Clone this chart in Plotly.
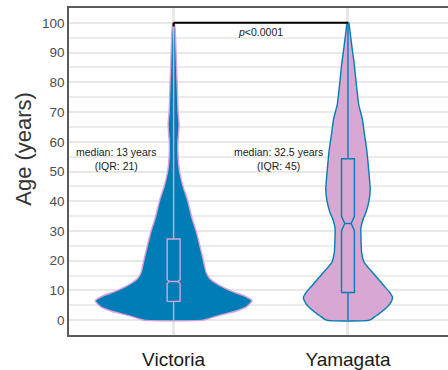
import plotly.graph_objects as go

# ---- data ----
categories = ["Victoria", "Yamagata"]

# violin density profiles (age, relative density; Victoria peak = 1)
vic_age = [0, 1.5, 3, 4.5, 6.5, 8, 9.5, 11, 12.5, 14, 16, 20, 25, 30.6, 34, 40.7, 45, 50, 55, 60, 63, 66, 70, 75, 80, 85, 90, 95, 100]
vic_dens = [0.38, 0.57, 0.79, 0.93, 1.0, 0.915, 0.76, 0.635, 0.535, 0.46, 0.415, 0.38, 0.335, 0.28, 0.238, 0.174, 0.12, 0.076, 0.057, 0.055, 0.064, 0.07, 0.057, 0.051, 0.045, 0.038, 0.032, 0.025, 0.01]

yam_age = [0, 1.4, 3.5, 5.5, 7.6, 9.5, 11.5, 14, 16, 19.4, 22.8, 28.4, 31, 34, 36.2, 40, 44, 50.8, 57.5, 63.1, 67.6, 72.6, 80.5, 86.1, 91.8, 97.3, 100]
yam_dens = [0.273, 0.356, 0.461, 0.534, 0.568, 0.527, 0.461, 0.381, 0.314, 0.207, 0.174, 0.165, 0.165, 0.194, 0.229, 0.267, 0.283, 0.263, 0.238, 0.207, 0.184, 0.136, 0.102, 0.08, 0.051, 0.025, 0.01]

# box statistics
q1 = [6.3, 9.3]
median = [13, 32.5]
q3 = [27.3, 54.3]
lowerfence = [0, 0]
upperfence = [100, 100]
notchspan = [0.6, 2.4]
iqr_labels = [21, 45]
p_label = "<i>p</i>&lt;0.0001"

# ---- styles ----
BLUE = "#007db6"
PLUM = "#d8a8d3"
PINK = "#dba0d8"
FONT = "Liberation Sans, Arial, sans-serif"
fills = [BLUE, PLUM]
lines = [PINK, BLUE]
max_half = 0.45
box_half = 0.037
notch_in = [0.35, 0.5]
positions = [0, 1]

fig = go.Figure()

profiles = [(vic_age, vic_dens), (yam_age, yam_dens)]
for i, (ages, dens) in enumerate(profiles):
    c = positions[i]
    xs = [c + max_half * d for d in dens] + [c - max_half * d for d in reversed(dens)] + [c + max_half * dens[0]]
    ys = list(ages) + list(reversed(ages)) + [ages[0]]
    fig.add_trace(go.Scatter(
        x=xs, y=ys, mode="lines", fill="toself",
        fillcolor=fills[i],
        line=dict(color=lines[i], width=1.4, shape="spline", smoothing=0.5),
        hoverinfo="skip", showlegend=False))

for i in range(2):
    c = positions[i]
    lo, hi = median[i] - notchspan[i], median[i] + notchspan[i]
    bw = box_half
    bn = box_half * (1 - notch_in[i])
    # whiskers
    fig.add_trace(go.Scatter(
        x=[c, c, None, c, c], y=[lowerfence[i], q1[i], None, q3[i], upperfence[i]],
        mode="lines", line=dict(color=lines[i], width=1.4),
        hoverinfo="skip", showlegend=False))
    # notched box
    bx = [c - bw, c + bw, c + bw, c + bn, c + bw, c + bw, c - bw, c - bw, c - bn, c - bw, c - bw]
    by = [q1[i], q1[i], lo, median[i], hi, q3[i], q3[i], hi, median[i], lo, q1[i]]
    fig.add_trace(go.Scatter(
        x=bx, y=by, mode="lines", fill="toself", fillcolor=fills[i],
        line=dict(color=lines[i], width=1.4),
        hoverinfo="skip", showlegend=False))
    fig.add_trace(go.Scatter(
        x=[c - bn, c + bn], y=[median[i], median[i]], mode="lines",
        line=dict(color=lines[i], width=1.4),
        hoverinfo="skip", showlegend=False))

# significance bracket
top = max(upperfence)
fig.add_shape(type="line", x0=positions[0], x1=positions[1], y0=top, y1=top,
              line=dict(color="black", width=2))
fig.add_shape(type="line", x0=positions[0], x1=positions[0], y0=top, y1=top - 1.2,
              line=dict(color="black", width=2))
fig.add_annotation(x=(positions[0] + positions[1]) / 2, y=top - 3, text=p_label,
                   showarrow=False, font=dict(family=FONT, size=10.5, color="#1a1a1a"))

label_x = [positions[0] - 0.327, positions[1] - 0.398]
for i in range(2):
    fig.add_annotation(x=label_x[i], y=54.3,
                       text=f"median: {median[i]:g} years<br>(IQR: {iqr_labels[i]})",
                       showarrow=False, font=dict(family=FONT, size=10.5, color="#1a1a1a"))

# y title
fig.add_annotation(text="Age (years)", xref="paper", yref="paper",
                   x=-0.122, y=(335 - 149) / 327, xanchor="center", yanchor="middle",
                   textangle=-90, showarrow=False,
                   font=dict(family=FONT, size=22, color="#333333"))

fig.update_layout(
    width=448, height=370,
    margin=dict(l=69, r=0, t=8, b=35, autoexpand=False),
    paper_bgcolor="white", plot_bgcolor="white",
    font=dict(family=FONT),
    hovermode=False,
    xaxis=dict(range=[-0.6, 1.5737], tickvals=positions, ticktext=categories,
               showgrid=True, gridcolor="#e8e8e8", gridwidth=2.5,
               zeroline=False, showline=True, linecolor="#5a5a5a", linewidth=1.5,
               mirror=True, ticks="outside", ticklen=6, tickcolor="rgba(0,0,0,0)",
               automargin=False,
               tickfont=dict(family=FONT, size=19, color="#1a1a1a")),
    yaxis=dict(range=[-5, 105], tickvals=list(range(0, 101, 10)),
               showgrid=True, gridcolor="#e8e8e8", gridwidth=2,
               minor=dict(dtick=5, tick0=0, showgrid=True, gridcolor="#ececec", gridwidth=1.6),
               zeroline=False, showline=True, linecolor="#5a5a5a", linewidth=1.5,
               automargin=False,
               ticks="", tickfont=dict(family=FONT, size=13.5, color="#4d4d4d")),
)

fig.write_html("out.html", config={"displayModeBar": False},
               post_script="document.body.style.margin='0';")
